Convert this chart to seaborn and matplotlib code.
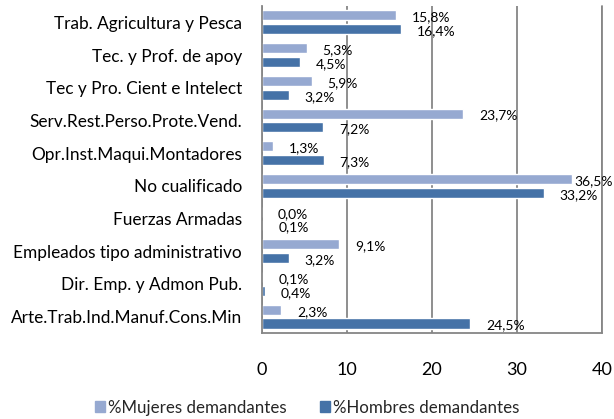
import matplotlib
matplotlib.use("Agg")
import matplotlib.pyplot as plt
import seaborn as sns
import pandas as pd

# Ocupaciones (de arriba abajo) y porcentajes de demandantes por sexo
categorias = [
    "Trab. Agricultura y Pesca",
    "Tec. y Prof. de apoy",
    "Tec y Pro. Cient e Intelect",
    "Serv.Rest.Perso.Prote.Vend.",
    "Opr.Inst.Maqui.Montadores",
    "No cualificado",
    "Fuerzas Armadas",
    "Empleados tipo administrativo",
    "Dir. Emp. y Admon Pub.",
    "Arte.Trab.Ind.Manuf.Cons.Min",
]
mujeres = [15.8, 5.3, 5.9, 23.7, 1.3, 36.5, 0.0, 9.1, 0.1, 2.3]
hombres = [16.4, 4.5, 3.2, 7.2, 7.3, 33.2, 0.1, 3.2, 0.4, 24.5]
series = ["%Mujeres demandantes", "%Hombres demandantes"]
ticks_x = [0, 10, 20, 30, 40]

colores = ["#96A9D1", "#4572A7"]
gris = "#868686"
fuente = "Lato"

df = pd.DataFrame({
    "categoria": categorias * 2,
    "valor": mujeres + hombres,
    "serie": [series[0]] * len(categorias) + [series[1]] * len(categorias),
})

sns.set_theme(style="white")
plt.rcParams["font.family"] = [fuente, "DejaVu Sans"]

fig = plt.figure(figsize=(6.14, 4.19), dpi=100)
ax = fig.add_axes([0.426, 0.2053, 0.554, 0.7804])

sns.barplot(
    data=df, y="categoria", x="valor", hue="serie", order=categorias,
    hue_order=series, palette=colores, orient="h", width=0.84, gap=0.27,
    saturation=1, ax=ax, legend=True,
)

ax.set_xlim(0, 40)
ax.set_ylim(len(categorias) - 0.5, -0.5)
ax.set_xticks(ticks_x)
ax.set_xlabel("")
ax.set_ylabel("")

# Rejilla vertical y ejes en gris
ax.grid(axis="x", color=gris, linewidth=1.3)
ax.set_axisbelow(True)
for lado in ["top", "right"]:
    ax.spines[lado].set_visible(False)
for lado in ["left", "bottom"]:
    ax.spines[lado].set_color(gris)
    ax.spines[lado].set_linewidth(1.3)
ax.axvline(40, color=gris, linewidth=1.3, clip_on=False, zorder=0.5)

ax.tick_params(axis="x", length=2, color=gris, width=1.3, pad=19,
               labelsize=13, labelcolor="black")
ax.tick_params(axis="y", length=0, pad=14, labelsize=12.4, labelcolor="black")
for t in ax.get_xticklabels() + ax.get_yticklabels():
    t.set_fontfamily([fuente, "DejaVu Sans"])

# Etiquetas de valor junto al extremo de cada barra
fig.canvas.draw()
renderer = fig.canvas.get_renderer()
fig_w_px = fig.get_figwidth() * fig.dpi
for cont in ax.containers:
    for barra in cont:
        v = barra.get_width()
        yc = barra.get_y() + barra.get_height() / 2
        txt = f"{v:.1f}%".replace(".", ",")
        dx = 11.5
        ann = ax.annotate(txt, xy=(v, yc), xytext=(dx, -1.5),
                          textcoords="offset points", ha="left", va="center",
                          fontsize=10, color="black", annotation_clip=False,
                          fontfamily=[fuente, "DejaVu Sans"])
        ext = ann.get_window_extent(renderer)
        if ext.x1 > fig_w_px - 1:
            shift_pt = (ext.x1 - (fig_w_px - 1)) * 72 / fig.dpi
            ann.set_position((dx - shift_pt, -1.5))

ax.get_legend().remove()
handles = [plt.Rectangle((0, 0), 1, 1, color=c) for c in colores]
fig.legend(handles, series, loc="center", bbox_to_anchor=(0.5, 0.027),
           ncol=2, frameon=False, fontsize=12.2, handlelength=0.6,
           handleheight=0.6, handletextpad=0.15, columnspacing=2.0)

fig.savefig("out.png", dpi=100)
